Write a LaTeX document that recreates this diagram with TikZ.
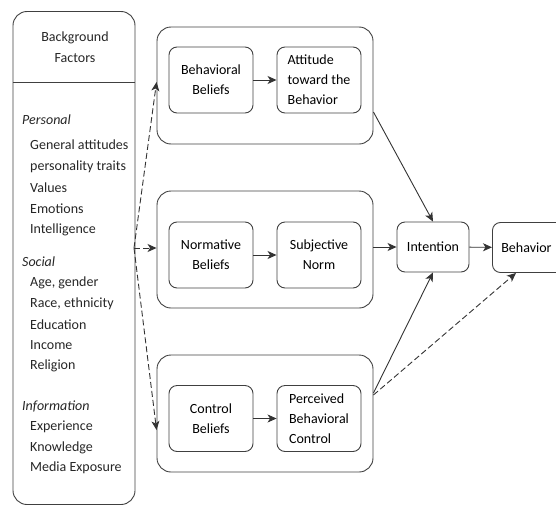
\documentclass[tikz,border=0pt]{standalone}
\usepackage{fontspec}
\setmainfont{Carlito}
\usetikzlibrary{arrows.meta,calc}

\tikzset{
  grp/.style={draw=black!75, line width=0.9pt, rounded corners=14pt, inner sep=0pt},
  inner/.style={draw=black!75, line width=0.9pt, rounded corners=8pt, inner sep=0pt,
    minimum width=84pt, minimum height=66pt, align=center, font=\fontsize{14}{20}\selectfont},
  sbox/.style={draw=black!75, line width=0.9pt, rounded corners=8pt, inner sep=0pt,
    minimum height=50pt, font=\fontsize{14}{20}\selectfont},
  item/.style={anchor=west, inner sep=0pt, font=\fontsize{14}{17}\selectfont, text=black!85},
  cat/.style={item, font=\fontsize{14}{17}\selectfont\itshape},
  tip/.style={-{Stealth[length=9pt,width=8pt,inset=2.5pt]}},
  link/.style={tip, draw=black!80, line width=0.9pt},
  dlink/.style={link, dash pattern=on 6pt off 3pt},
}

\begin{document}
\begin{tikzpicture}[x=1pt,y=-1pt]
\useasboundingbox (0,0) rectangle (556,506);

% background factors column
\node[grp, minimum width=122pt, minimum height=493pt] (bg) at (74,258) {};
\draw[draw=black!75, line width=0.9pt] (bg.west |- 0,82) -- (bg.east |- 0,82);
\node[align=center, inner sep=0pt, font=\fontsize{14}{21}\selectfont, text=black!85] (bgt) at (75,47) {Background\\Factors};

\node[cat] (personal) at (22,120) {Personal};
\node[item] (p1) at (30,145) {General attitudes};
\node[item] (p2) at (30,167) {personality traits};
\node[item] (p3) at (30,188) {Values};
\node[item] (p4) at (30,209) {Emotions};
\node[item] (p5) at (30,230) {Intelligence};

\node[cat] (social) at (22,262) {Social};
\node[item] (s1) at (30,283) {Age, gender};
\node[item] (s2) at (30,304) {Race, ethnicity};
\node[item] (s3) at (30,325) {Education};
\node[item] (s4) at (30,345) {Income};
\node[item] (s5) at (30,366) {Religion};

\node[cat] (info) at (22,406) {Information};
\node[item] (i1) at (30,427) {Experience};
\node[item] (i2) at (30,448) {Knowledge};
\node[item] (i3) at (30,468) {Media Exposure};

% belief groups
\node[grp, minimum width=216pt, minimum height=117pt] (g1) at (265,85.5) {};
\node[grp, minimum width=216pt, minimum height=117pt] (g2) at (265,249.5) {};
\node[grp, minimum width=216pt, minimum height=117pt] (g3) at (265,413.5) {};

\node[inner] (bb) at (211,80) {Behavioral\\Beliefs};
\node[inner, align=left] (att) at (319,80) {Attitude\\toward the\\Behavior};
\node[inner] (nb) at (211,255) {Normative\\Beliefs};
\node[inner] (sn) at (319,255) {Subjective\\Norm};
\node[inner] (cb) at (211,418.5) {Control\\Beliefs};
\node[inner, align=left] (pbc) at (319,418.5) {Perceived\\Behavioral\\Control};

% intention and behavior
\node[sbox, minimum width=72pt] (int) at (433,247) {Intention};
\node[sbox, minimum width=76pt, anchor=west] (beh) at (492,247.5) {\hspace*{-8pt}Behavior};

% connectors
\coordinate (src) at (134,248);
\draw[dlink] (src) -- (g1.west |- 0,82);
\draw[dlink] (src) -- (g2.west |- src);
\draw[dlink] (src) -- (g3.west |- 0,430);

\draw[link] (bb) -- (att);
\draw[link] (nb) -- (sn);
\draw[link] (cb) -- (pbc);

\draw[link] (g1.east |- 0,112) -- (int.north);
\draw[link] (g2.east |- int) -- (int.west);
\draw[link] (g3.east |- 0,393) -- (int.south);
\draw[dlink] (g3.east |- 0,395) -- ($(beh.south west)+(24,0)$);
\draw[link] (int) -- (beh);
\end{tikzpicture}
\end{document}
